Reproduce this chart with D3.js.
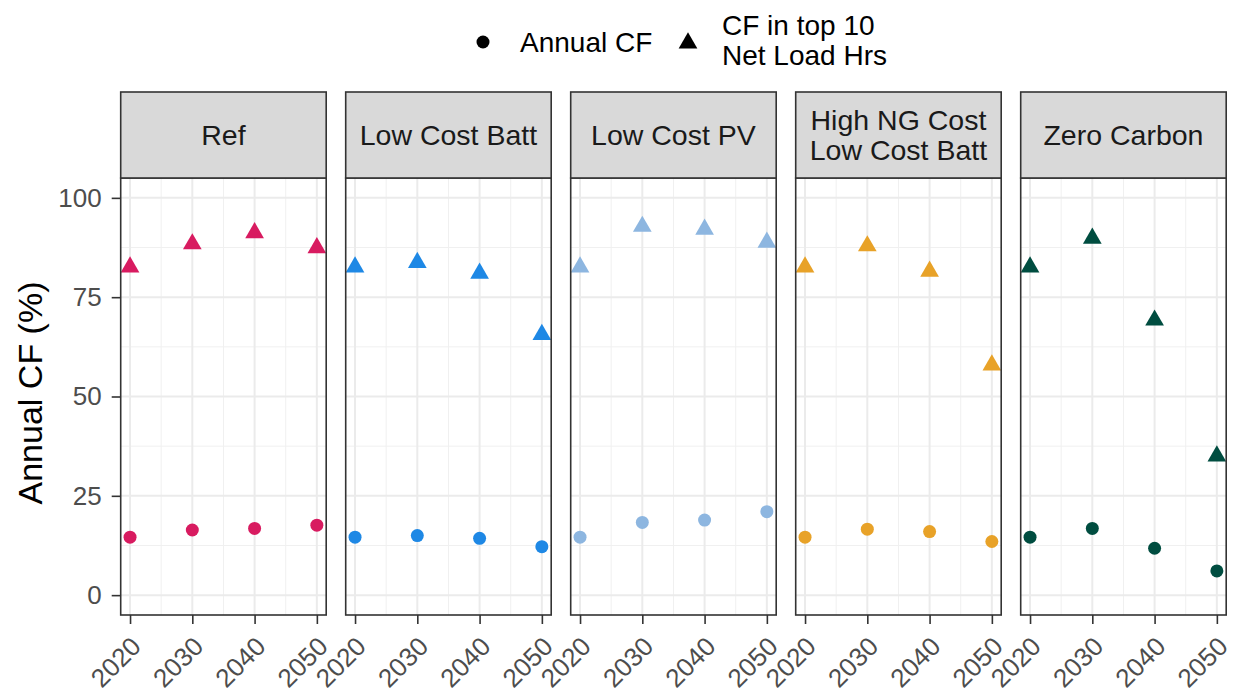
<!DOCTYPE html>
<html>
<head>
<meta charset="utf-8">
<script src="https://cdn.jsdelivr.net/npm/d3@7"></script>
<style>
  body { margin: 0; background: #fff; }
  text { font-family: "Liberation Sans", Arial, sans-serif; }
</style>
</head>
<body>
<script>
// data
let years = [2020, 2030, 2040, 2050];
let scenarios = ['Ref', 'Low Cost Batt', 'Low Cost PV', 'High NG Cost\nLow Cost Batt', 'Zero Carbon'];
let colors = ['#D81B60', '#1E88E5', '#8DB6E0', '#E8A228', '#004D40'];
let annualCF = [
  [14.6, 16.4, 16.8, 17.6],
  [14.6, 15.0, 14.3, 12.2],
  [14.6, 18.3, 18.9, 21.0],
  [14.6, 16.6, 16.0, 13.5],
  [14.6, 16.8, 11.8, 6.1]
];
let peakCF = [
  [82.6, 88.4, 91.2, 87.4],
  [82.6, 83.7, 81.0, 65.6],
  [82.6, 92.8, 92.1, 88.8],
  [82.6, 87.9, 81.5, 57.9],
  [82.6, 89.8, 69.2, 35.0]
];
let yTicks = [0, 25, 50, 75, 100];
let yMinor = [12.5, 37.5, 62.5, 87.5];
let xMinor = [2025, 2035, 2045];

let width = 1233;
let height = 694;

let svg = d3.select('body')
  .append('svg')
  .attr('width', width)
  .attr('height', height);

// layout
let panelLeft = 120.7;
let panelW = 205.5;
let panelStep = 225;
let stripTop = 92;
let stripBottom = 178;
let panelBottom = 615;

let y = d3.scaleLinear().domain([-5, 105]).range([panelBottom, stripBottom]);
let triR = 10.8;
let triangle = 'M0,' + (-triR) + 'L' + (triR * 0.866) + ',' + (triR / 2) + 'L' + (-triR * 0.866) + ',' + (triR / 2) + 'Z';

scenarios.forEach(function(name, p) {
  let x0 = panelLeft + p * panelStep;
  let x = d3.scaleLinear().domain([2018.5, 2051.5]).range([x0, x0 + panelW]);
  let g = svg.append('g');

  // grid
  g.selectAll('.ymin').data(yMinor).enter().append('line')
    .attr('x1', x0).attr('x2', x0 + panelW)
    .attr('y1', d => y(d)).attr('y2', d => y(d))
    .attr('stroke', '#F0F0F0').attr('stroke-width', 1);
  g.selectAll('.xmin').data(xMinor).enter().append('line')
    .attr('y1', stripBottom).attr('y2', panelBottom)
    .attr('x1', d => x(d)).attr('x2', d => x(d))
    .attr('stroke', '#F0F0F0').attr('stroke-width', 1);
  g.selectAll('.ymaj').data(yTicks).enter().append('line')
    .attr('x1', x0).attr('x2', x0 + panelW)
    .attr('y1', d => y(d)).attr('y2', d => y(d))
    .attr('stroke', '#EBEBEB').attr('stroke-width', 2);
  g.selectAll('.xmaj').data(years).enter().append('line')
    .attr('y1', stripBottom).attr('y2', panelBottom)
    .attr('x1', d => x(d)).attr('x2', d => x(d))
    .attr('stroke', '#EBEBEB').attr('stroke-width', 2);

  // points
  g.selectAll('.pt').data(annualCF[p]).enter().append('circle')
    .attr('cx', (d, i) => x(years[i]))
    .attr('cy', d => y(d))
    .attr('r', 6.5)
    .attr('fill', colors[p]);
  g.selectAll('.tri').data(peakCF[p]).enter().append('path')
    .attr('d', triangle)
    .attr('transform', (d, i) => 'translate(' + x(years[i]) + ',' + y(d) + ')')
    .attr('fill', colors[p]);

  // border
  g.append('rect')
    .attr('x', x0).attr('y', stripBottom)
    .attr('width', panelW).attr('height', panelBottom - stripBottom)
    .attr('fill', 'none').attr('stroke', '#333333').attr('stroke-width', 1.6);

  // strip
  g.append('rect')
    .attr('x', x0).attr('y', stripTop)
    .attr('width', panelW).attr('height', stripBottom - stripTop)
    .attr('fill', '#D9D9D9').attr('stroke', '#333333').attr('stroke-width', 1.6);
  let lines = name.split('\n');
  let st = g.append('text')
    .attr('x', x0 + panelW / 2)
    .attr('y', (stripTop + stripBottom) / 2)
    .attr('text-anchor', 'middle')
    .attr('font-size', '28.5px')
    .attr('fill', '#1A1A1A');
  lines.forEach(function(l, i) {
    st.append('tspan')
      .attr('x', x0 + panelW / 2)
      .attr('dy', i === 0 ? ((0.35 - (lines.length - 1) * 0.51) + 'em') : '1.02em')
      .text(l);
  });

  // x axis
  let xa = g.append('g')
    .attr('transform', 'translate(0,' + panelBottom + ')')
    .call(d3.axisBottom(x).tickValues(years).tickFormat(d3.format('d')).tickSize(9).tickPadding(0));
  xa.select('.domain').remove();
  xa.selectAll('line').attr('stroke', '#333333').attr('stroke-width', 1.6);
  xa.selectAll('text')
    .attr('font-size', '26px')
    .attr('fill', '#4D4D4D')
    .attr('text-anchor', 'end')
    .attr('y', 0)
    .attr('dy', '0.71em')
    .attr('transform', 'translate(-1,20) rotate(-45)');
});

// y axis
let ya = svg.append('g')
  .attr('transform', 'translate(' + panelLeft + ',0)')
  .call(d3.axisLeft(y).tickValues(yTicks).tickSize(9).tickPadding(10));
ya.select('.domain').remove();
ya.selectAll('line').attr('stroke', '#333333').attr('stroke-width', 1.6);
ya.selectAll('text').attr('font-size', '26px').attr('fill', '#4D4D4D');

svg.append('text')
  .attr('transform', 'translate(42,393) rotate(-90)')
  .attr('text-anchor', 'middle')
  .attr('font-size', '34px')
  .attr('fill', '#000')
  .text('Annual CF (%)');

// legend
svg.append('circle').attr('cx', 483).attr('cy', 42).attr('r', 6.5).attr('fill', '#000');
svg.append('text').attr('x', 520).attr('y', 52)
  .attr('font-size', '28px').text('Annual CF');
svg.append('path').attr('d', triangle).attr('transform', 'translate(688,43)').attr('fill', '#000');
let lt = svg.append('text').attr('x', 722).attr('y', 35).attr('font-size', '28px');
lt.append('tspan').attr('x', 722).text('CF in top 10');
lt.append('tspan').attr('x', 722).attr('dy', '1.08em').text('Net Load Hrs');
</script>
</body>
</html>
